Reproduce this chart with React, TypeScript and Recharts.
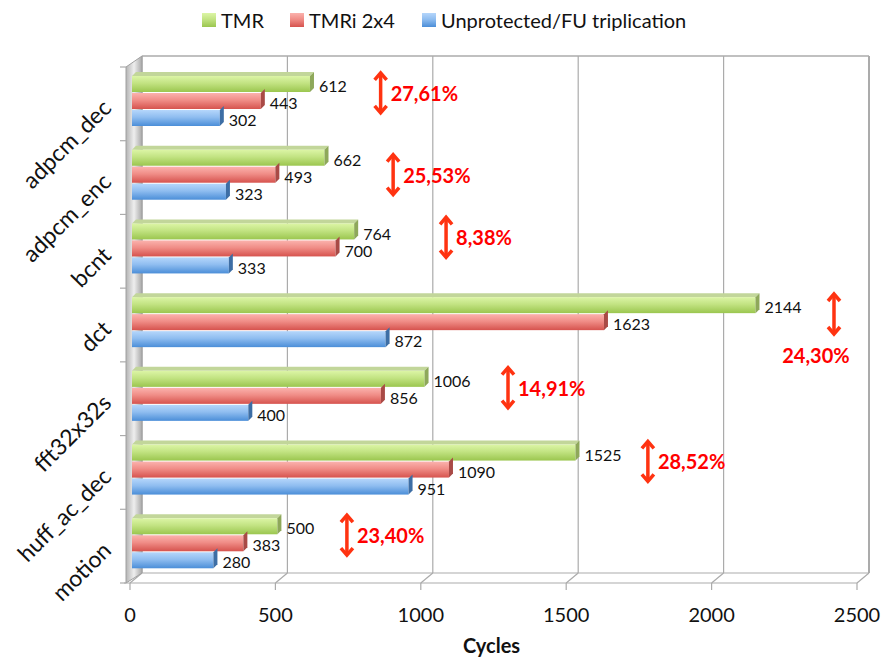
import React from "react";
import {
  BarChart,
  Bar,
  XAxis,
  YAxis,
  LabelList,
  Legend,
  ReferenceDot,
  Customized,
} from "recharts";

// values
const categories = ["adpcm_dec", "adpcm_enc", "bcnt", "dct", "fft32x32s", "huff_ac_dec", "motion"];
const tmr = [612, 662, 764, 2144, 1006, 1525, 500];
const tmri = [443, 493, 700, 1623, 856, 1090, 383];
const unprotected = [302, 323, 333, 872, 400, 951, 280];
const seriesNames = ["TMR", "TMRi 2x4", "Unprotected/FU triplication"];
const xTicks = [0, 500, 1000, 1500, 2000, 2500];
const gainLabels = ["27,61%", "25,53%", "8,38%", "24,30%", "14,91%", "28,52%", "23,40%"];
const gainAt = [855, 898, 1080, 2414, 1293, 1774, 739];

const data = categories.map((name, i) => ({
  name,
  tmr: tmr[i],
  tmri: tmri[i],
  unprotected: unprotected[i],
}));

// layout
const W = 881;
const H = 664;
const PL = 132;
const PR = 859;
const PT = 64;
const PB = 580;
const DEPTH = 10;
const CAP = 4;
const FONT = "Lato, 'Open Sans', sans-serif";
const ARROW_NUDGE: Record<string, number> = { adpcm_enc: 8, bcnt: -3 };
const LABEL_BELOW = ["dct"];

const gradients = [
  { id: "gGreen", stops: ["#dcf5a6", "#c2e382", "#9bc64f"] },
  { id: "gRed", stops: ["#fbb2ad", "#f08d87", "#d6534e"] },
  { id: "gBlue", stops: ["#b5d6fb", "#8fbdf0", "#4b8ed8"] },
];

const Walls = () => {
  const backTop = 56;
  const backBottom = 573;
  const frontBottom = 583;
  const xs = xTicks.map((_, i) => PL + (i * (PR - PL)) / (xTicks.length - 1));
  const grid = "#ababab";
  const rowH = (frontBottom - 67) / categories.length;
  return (
    <g>
      <defs>
        {gradients.map((g) => (
          <linearGradient key={g.id} id={g.id} x1="0" y1="0" x2="0" y2="1">
            <stop offset="0" stopColor={g.stops[0]} />
            <stop offset="0.45" stopColor={g.stops[1]} />
            <stop offset="1" stopColor={g.stops[2]} />
          </linearGradient>
        ))}
        <linearGradient id="gWall" x1="0" y1="0" x2="1" y2="0">
          <stop offset="0" stopColor="#b4b4b4" />
          <stop offset="0.5" stopColor="#eeeeee" />
          <stop offset="1" stopColor="#a8a8a8" />
        </linearGradient>
      </defs>
      <line x1={PL + DEPTH} y1={backTop} x2={PR + DEPTH} y2={backTop} stroke={grid} strokeWidth={1.5} />
      {xs.map((x, i) => (
        <line
          key={i}
          x1={x + DEPTH}
          y1={backTop}
          x2={x + DEPTH}
          y2={backBottom}
          stroke={grid}
          strokeWidth={i === xs.length - 1 ? 2 : 1.2}
        />
      ))}
      <line x1={PL + DEPTH} y1={backBottom} x2={PR + DEPTH} y2={backBottom} stroke={grid} strokeWidth={1.2} />
      <line x1={PL - 8} y1={frontBottom} x2={PR - 2} y2={frontBottom} stroke={grid} strokeWidth={1.2} />
      {xs.map((x, i) => (
        <g key={i}>
          <line x1={x + DEPTH} y1={backBottom} x2={x - 2} y2={frontBottom} stroke={grid} strokeWidth={1.2} />
          <line x1={x - 2} y1={frontBottom} x2={x - 2} y2={frontBottom + 7} stroke={grid} strokeWidth={1.2} />
        </g>
      ))}
      <polygon
        points={`${PL - 6},67 ${PL + DEPTH},${backTop} ${PL + DEPTH},${backBottom} ${PL - 6},${frontBottom}`}
        fill="url(#gWall)"
        stroke="#a0a0a0"
        strokeWidth={1}
      />
      {categories.map((_, i) => (
        <line key={i} x1={PL - 12} y1={67 + i * rowH} x2={PL - 6} y2={67 + i * rowH} stroke={grid} strokeWidth={1.2} />
      ))}
      <line x1={PL - 12} y1={frontBottom} x2={PL - 6} y2={frontBottom} stroke={grid} strokeWidth={1.2} />
    </g>
  );
};

const makeShape = (gradId: string, topColor: string, sideColor: string, withTop: boolean) => (props: any) => {
  const { x, y, width, height } = props;
  if (!(width > 0)) return <g />;
  return (
    <g>
      {withTop && (
        <polygon
          points={`${x},${y} ${x + CAP},${y - CAP} ${x + width + CAP},${y - CAP} ${x + width},${y}`}
          fill={topColor}
        />
      )}
      <rect x={x} y={y} width={width} height={height} fill={`url(#${gradId})`} />
      <polygon
        points={`${x + width},${y} ${x + width + CAP},${y - CAP} ${x + width + CAP},${y + height - CAP} ${x + width},${y + height}`}
        fill={sideColor}
      />
    </g>
  );
};

const valueLabel = (props: any) => {
  const { x, y, width, height, value } = props;
  return (
    <text
      x={x + width + 9}
      y={y + height / 2 + 2.5}
      dy="0.35em"
      fontSize={16}
      fill="#111"
      fontFamily={FONT}
    >
      {value}
    </text>
  );
};

const CategoryTick = (props: any) => {
  const { y, payload } = props;
  const ax = PL - 25;
  const ay = y + 3;
  return (
    <text
      x={ax}
      y={ay}
      dy="0.35em"
      textAnchor="end"
      fontSize={23}
      fill="#111"
      fontFamily={FONT}
      transform={`rotate(-45 ${ax} ${ay})`}
    >
      {payload.value}
    </text>
  );
};

const XTick = (props: any) => {
  const { x, payload } = props;
  return (
    <text x={x - 2} y={PB + 42} textAnchor="middle" fontSize={20} fill="#111" fontFamily={FONT}>
      {payload.value}
    </text>
  );
};

const arrowShape = (name: string, label: string) => (props: any) => {
  const { cx, cy } = props;
  const c = cy - 8 + (ARROW_NUDGE[name] || 0);
  const top = c - 21;
  const bot = c + 21;
  const red = "#ff3311";
  const below = LABEL_BELOW.includes(name);
  return (
    <g>
      <line x1={cx} y1={top + 2} x2={cx} y2={bot - 2} stroke={red} strokeWidth={3.5} />
      <polyline
        points={`${cx - 6},${top + 8} ${cx},${top + 1} ${cx + 6},${top + 8}`}
        fill="none"
        stroke={red}
        strokeWidth={3.5}
      />
      <polyline
        points={`${cx - 6},${bot - 8} ${cx},${bot - 1} ${cx + 6},${bot - 8}`}
        fill="none"
        stroke={red}
        strokeWidth={3.5}
      />
      <text
        x={below ? cx - 18 : cx + 10}
        y={below ? c + 42 : c + 1}
        dy="0.35em"
        textAnchor={below ? "middle" : "start"}
        fontSize={20}
        fontWeight={700}
        fill="#ff0000"
        fontFamily={FONT}
      >
        {label}
      </text>
    </g>
  );
};

const legendColors = ["gGreen", "gRed", "gBlue"];
const legendLeft = [202, 290, 422];

const renderLegend = () => (
  <div style={{ position: "relative", height: PT, width: W, fontFamily: FONT, fontSize: 20, color: "#111" }}>
    {seriesNames.map((s, i) => (
      <div
        key={s}
        style={{ position: "absolute", left: legendLeft[i], top: 8, display: "flex", alignItems: "center", height: 24 }}
      >
        <svg width={14} height={14} style={{ marginRight: 5 }}>
          <rect x={0} y={0} width={14} height={14} fill={`url(#${legendColors[i]})`} />
        </svg>
        <span style={{ lineHeight: "24px", whiteSpace: "nowrap" }}>{s}</span>
      </div>
    ))}
  </div>
);

export default function App() {
  return (
    <div style={{ position: "absolute", left: 0, top: 0, width: W, height: H, background: "#fff" }}>
      <BarChart
        width={W}
        height={H}
        data={data}
        layout="vertical"
        margin={{ top: 0, right: W - PR, bottom: 0, left: 0 }}
        barSize={16}
        barGap={1}
      >
        <Customized component={Walls} />
        <Legend
          verticalAlign="top"
          align="left"
          content={renderLegend}
          wrapperStyle={{ left: 0, top: 0, width: W, height: PT }}
        />
        <XAxis
          type="number"
          domain={[0, 2500]}
          ticks={xTicks}
          height={H - PB}
          axisLine={false}
          tickLine={false}
          tick={<XTick />}
          label={{
            value: "Cycles",
            position: "insideBottom",
            offset: 11,
            dx: -4,
            style: { fontWeight: 700, fontSize: 20, fill: "#111", fontFamily: FONT },
          }}
        />
        <YAxis
          type="category"
          dataKey="name"
          width={PL}
          axisLine={false}
          tickLine={false}
          tick={<CategoryTick />}
          interval={0}
        />
        <Bar
          dataKey="tmr"
          name={seriesNames[0]}
          isAnimationActive={false}
          shape={makeShape("gGreen", "#c2d69a", "#8ea85a", true)}
        >
          <LabelList dataKey="tmr" content={valueLabel} />
        </Bar>
        <Bar
          dataKey="tmri"
          name={seriesNames[1]}
          isAnimationActive={false}
          shape={makeShape("gRed", "#e8a09c", "#a94a46", false)}
        >
          <LabelList dataKey="tmri" content={valueLabel} />
        </Bar>
        <Bar
          dataKey="unprotected"
          name={seriesNames[2]}
          isAnimationActive={false}
          shape={makeShape("gBlue", "#9cbde6", "#3d6ea5", false)}
        >
          <LabelList dataKey="unprotected" content={valueLabel} />
        </Bar>
        {categories.map((c, i) => (
          <ReferenceDot
            key={c}
            x={gainAt[i]}
            y={c}
            r={0}
            ifOverflow="visible"
            shape={arrowShape(c, gainLabels[i])}
          />
        ))}
      </BarChart>
    </div>
  );
}
